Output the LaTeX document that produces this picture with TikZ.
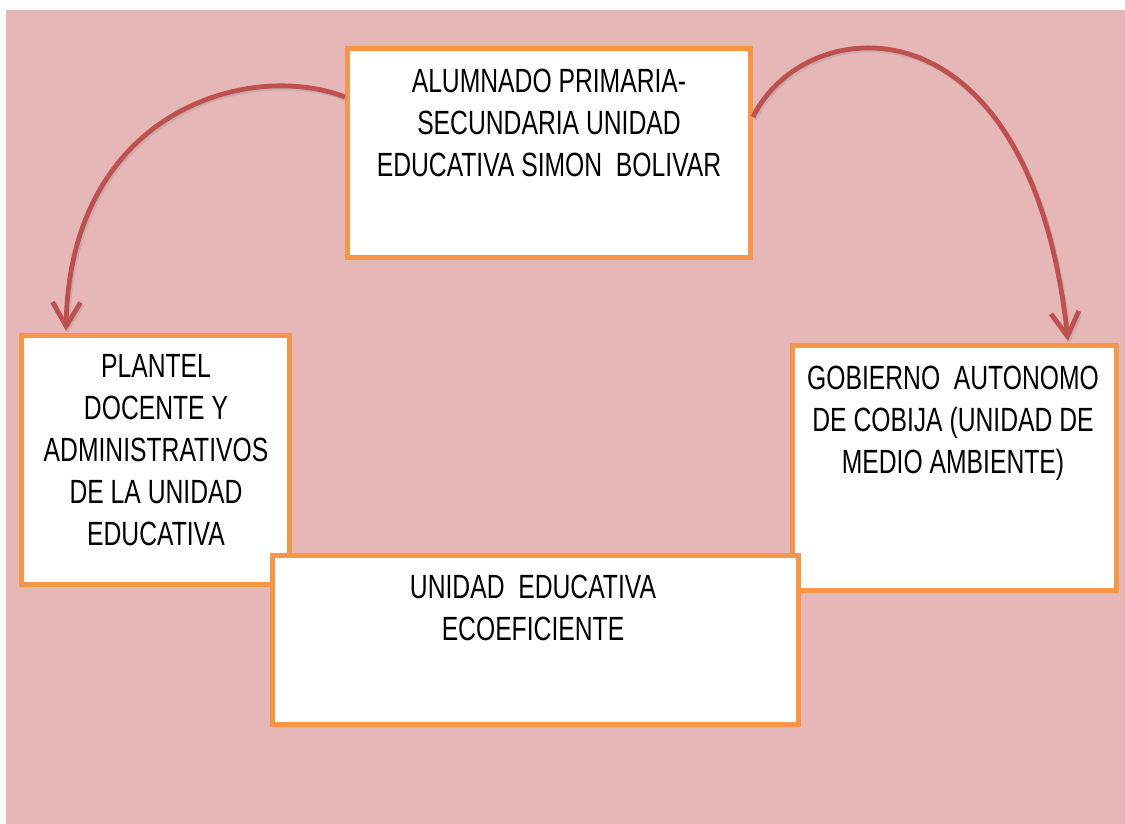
\documentclass[tikz,border=0pt]{standalone}
\usepackage{fontspec}
\setmainfont{Liberation Sans}[FakeStretch=0.735]
\usetikzlibrary{arrows.meta,calc}
\definecolor{bgpink}{RGB}{229,184,183}
\definecolor{boxorange}{RGB}{247,150,70}
\definecolor{arrowred}{RGB}{192,80,77}
\tikzset{
  box/.style={draw=boxorange, line width=2.5pt, fill=white, inner sep=0pt},
  label/.style={anchor=north, inner sep=0pt, align=center, font=\fontsize{16.8}{21}\selectfont},
  link/.style={draw=arrowred, line width=2.4pt, -{Straight Barb[length=12pt,width=14pt,line width=2.4pt]},
    preaction={draw=black!45, opacity=0.3, line width=2.4pt, transform canvas={shift={(0.8pt,-1pt)}}}}
}
\begin{document}
\begin{tikzpicture}[x=0.5pt,y=-0.5pt]
\useasboundingbox (0,0) rectangle (1125,824);
\fill[white] (0,0) rectangle (1125,824);
\fill[bgpink] (6,10) rectangle (1125,824);

\node[box, minimum width=201.5pt, minimum height=104.5pt] (top) at (549,153) {};
\node[box, minimum width=134pt, minimum height=124.5pt] (left) at (155.5,460) {};
\node[box, minimum width=162pt, minimum height=122.5pt] (right) at (954.5,468) {};
\node[box, minimum width=263pt, minimum height=84.5pt] (bottom) at (535.5,640) {};

\node[label] (ttop) at (549,69) {ALUMNADO PRIMARIA-\\SECUNDARIA UNIDAD\\EDUCATIVA SIMON\ \ BOLIVAR};
\node[label] (tleft) at (156,354) {PLANTEL\\DOCENTE Y\\ADMINISTRATIVOS\\DE LA UNIDAD\\EDUCATIVA};
\node[label] (tright) at (953,366) {GOBIERNO\ \ AUTONOMO\\DE COBIJA (UNIDAD DE\\MEDIO AMBIENTE)};
\node[label] (tbottom) at (533,575) {UNIDAD\ \ EDUCATIVA\\ECOEFICIENTE};

\draw[link] ([yshift=28pt]top.west) .. controls (250,60) and (70,110) .. ([xshift=-44.75pt,yshift=1pt]left.north);
\draw[link] ([yshift=18pt]top.east) .. controls (805,10) and (1030,-10) .. ([xshift=56.75pt,yshift=1pt]right.north);
\end{tikzpicture}
\end{document}
